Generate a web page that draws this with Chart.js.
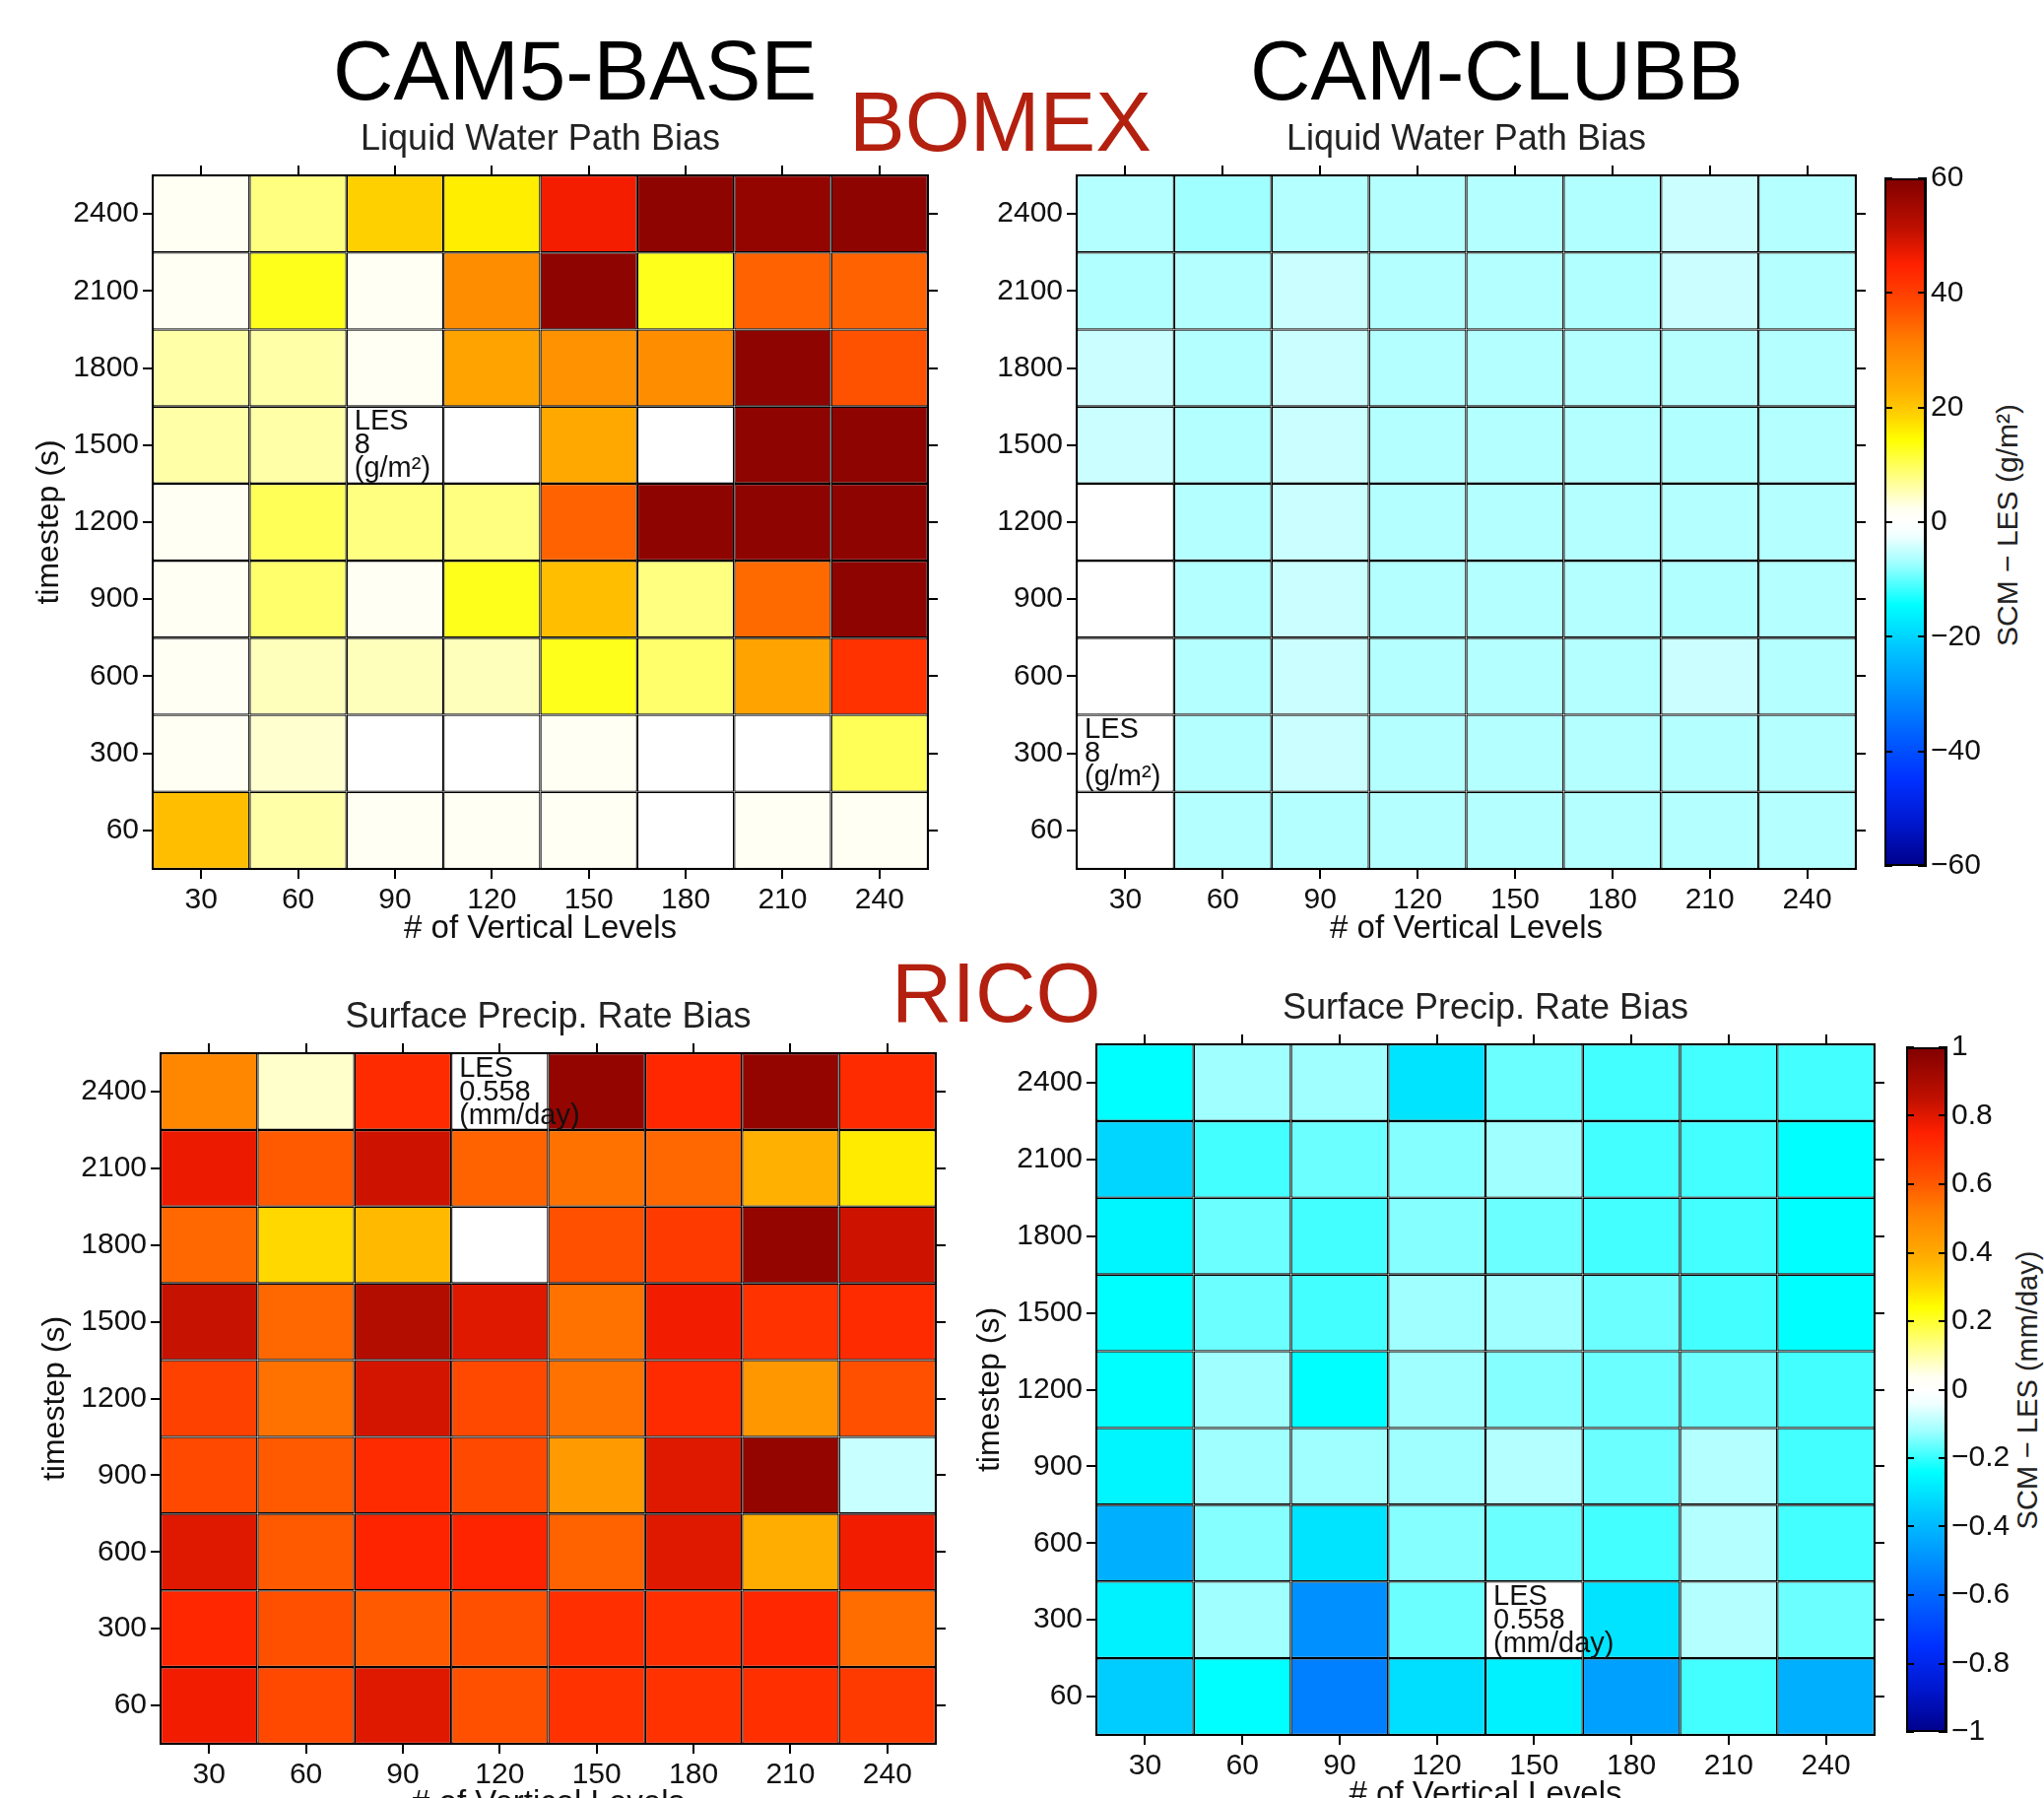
<!DOCTYPE html>
<html lang="en">
<head>
<meta charset="UTF-8" />
<title>BOMEX / RICO bias</title>
<script src="https://cdn.jsdelivr.net/npm/chart.js"></script>
<style>
  html, body { margin: 0; padding: 0; background: #fff; overflow: hidden; }
  body { width: 2075px; height: 1825px; position: relative; font-family: "Liberation Sans", Arial, sans-serif; }
  canvas { position: absolute; }
  .big { position: absolute; font-size: 85px; line-height: 85px; white-space: nowrap; color: #000; }
  .case { color: #b3200f; }
  .cblabel { position: absolute; color: #222; white-space: nowrap; transform: translate(-50%, -50%) rotate(-90deg); }
</style>
</head>
<body>
<div class="big" style="left:338px;top:29px">CAM5-BASE</div>
<div class="big" style="left:1269px;top:29px">CAM-CLUBB</div>
<div class="big case" style="left:862px;top:81px">BOMEX</div>
<div class="big case" style="left:905px;top:965px">RICO</div>
<div class="cblabel" style="left:2038px;top:533px;font-size:30px">SCM − LES (g/m²)</div>
<div class="cblabel" style="left:2058px;top:1411px;font-size:29px">SCM − LES (mm/day)</div>

<canvas id="lwpBase"></canvas>
<canvas id="lwpClubb"></canvas>
<canvas id="precipBase"></canvas>
<canvas id="precipClubb"></canvas>
<canvas id="lwpBar"></canvas>
<canvas id="precipBar"></canvas>

<script>
  // axes
  const levels = ["30", "60", "90", "120", "150", "180", "210", "240"];
  const timesteps = ["60", "300", "600", "900", "1200", "1500", "1800", "2100", "2400"];

  // rows: timestep 60 (bottom) ... 2400 (top); null = white cell
  const lwpBase = [
    [21, 6, 2, 2, 2, null, 2, 2],
    [2, 4, null, null, 2, null, null, 10],
    [2, 5, 5, 5, 13, 9, 25, 42],
    [2, 9, 2, 13, 21, 8, 34, 58],
    [2, 10, 8, 8, 35, 58, 58, 58],
    [6, 6, null, null, 24, null, 58, 58],
    [6, 6, 2, 25, 28, 29, 58, 37],
    [2, 13, 2, 29, 58, 13, 35, 35],
    [2, 8, 19, 16, 46, 58, 57, 58],
  ];
  const lwpClubb = [
    [null, -6, -6, -6, -6, -6, -6, -6],
    [null, -6, -4.6, -6, -6, -6, -6, -6],
    [null, -6, -4.6, -6, -6, -6, -4.6, -6],
    [null, -6, -4.6, -6, -6, -6, -6.2, -6],
    [null, -6, -4.6, -6, -6, -6, -6, -6],
    [-4.6, -6, -4.6, -6, -6, -6, -6.2, -6],
    [-4.6, -6, -4.6, -6, -6, -6, -5.8, -6],
    [-6.2, -6, -4.6, -6, -6, -6.2, -4.6, -6],
    [-6, -7.2, -6, -6, -6, -6.2, -4.6, -6],
  ];
  const precipBase = [
    [0.77, 0.64, 0.8, 0.62, 0.7, 0.7, 0.71, 0.68],
    [0.73, 0.62, 0.6, 0.62, 0.71, 0.71, 0.73, 0.56],
    [0.8, 0.6, 0.74, 0.74, 0.58, 0.8, 0.39, 0.77],
    [0.64, 0.6, 0.72, 0.64, 0.44, 0.8, 0.95, -0.08],
    [0.66, 0.55, 0.82, 0.64, 0.55, 0.72, 0.45, 0.62],
    [0.84, 0.57, 0.88, 0.8, 0.55, 0.77, 0.7, 0.72],
    [0.57, 0.3, 0.36, null, 0.62, 0.68, 0.95, 0.83],
    [0.78, 0.6, 0.83, 0.58, 0.55, 0.57, 0.38, 0.27],
    [0.5, 0.07, 0.72, null, 0.95, 0.73, 0.95, 0.72],
  ];
  const precipClubb = [
    [-0.35, -0.24, -0.54, -0.31, -0.27, -0.46, -0.19, -0.42],
    [-0.27, -0.12, -0.5, -0.16, null, -0.3, -0.1, -0.16],
    [-0.42, -0.14, -0.3, -0.14, -0.16, -0.19, -0.1, -0.19],
    [-0.26, -0.12, -0.12, -0.12, -0.1, -0.16, -0.1, -0.19],
    [-0.24, -0.12, -0.24, -0.12, -0.14, -0.16, -0.16, -0.19],
    [-0.24, -0.16, -0.19, -0.12, -0.12, -0.16, -0.19, -0.24],
    [-0.26, -0.16, -0.19, -0.14, -0.16, -0.19, -0.19, -0.24],
    [-0.33, -0.19, -0.16, -0.14, -0.12, -0.19, -0.19, -0.24],
    [-0.24, -0.12, -0.12, -0.3, -0.16, -0.19, -0.19, -0.19],
  ];

  // colour bar ticks
  const lwpBarTicks = [-60, -40, -20, 0, 20, 40, 60];
  const precipBarTicks = [-1, -0.8, -0.6, -0.4, -0.2, 0, 0.2, 0.4, 0.6, 0.8, 1];

  // blue - white - red map, position in [-1, 1]
  const cmap = [
    [-1.0, "#00008a"], [-0.87, "#0018d0"], [-0.75, "#0030ff"], [-0.62, "#0060ff"],
    [-0.5, "#0090ff"], [-0.36, "#00c8ff"], [-0.24, "#00ffff"], [-0.12, "#a0ffff"],
    [-0.04, "#f0ffff"], [0.0, "#ffffff"], [0.04, "#fffff0"], [0.12, "#ffff90"],
    [0.24, "#ffff00"], [0.3, "#ffd800"], [0.38, "#ffb000"], [0.52, "#ff8000"],
    [0.62, "#ff5000"], [0.75, "#ff2000"], [0.85, "#c01000"], [1.0, "#800000"],
  ];

  Chart.defaults.font.family = '"Liberation Sans", Arial, sans-serif';
  Chart.defaults.color = "#111";

  function hexRgb(h) {
    return [1, 3, 5].map((i) => parseInt(h.slice(i, i + 2), 16));
  }

  function colorFor(v, vmax) {
    if (v === null) return "#ffffff";
    const t = Math.max(-1, Math.min(1, v / vmax));
    for (let i = 1; i < cmap.length; i++) {
      if (t <= cmap[i][0]) {
        const f = (t - cmap[i - 1][0]) / (cmap[i][0] - cmap[i - 1][0]);
        const a = hexRgb(cmap[i - 1][1]), b = hexRgb(cmap[i][1]);
        const c = a.map((x, k) => Math.round(x + (b[k] - x) * f));
        return "rgb(" + c.join(",") + ")";
      }
    }
    return cmap[cmap.length - 1][1];
  }

  // "LES <value> (unit)" note written into one cell
  const lesLabel = {
    id: "lesLabel",
    afterDatasetsDraw(chart, args, o) {
      if (!o.lines) return;
      const { x, y } = chart.scales;
      const half = (x.getPixelForValue(1) - x.getPixelForValue(0)) / 2;
      const px = x.getPixelForValue(o.col) - half + 8;
      const py = y.getPixelForValue(o.row + 1) + 1;
      const ctx = chart.ctx;
      ctx.save();
      ctx.font = '29px "Liberation Sans", Arial, sans-serif';
      ctx.fillStyle = "#111";
      ctx.textBaseline = "top";
      o.lines.forEach((s, i) => ctx.fillText(s, px, py + i * 24));
      ctx.restore();
    },
  };

  function heatmap(id, box, values, vmax, subtitle, les) {
    const canvas = document.getElementById(id);
    const titleBox = 48;
    const left = box.L - box.yW, right = box.R + box.yW;
    const top = box.T - 10 - titleBox, bottom = box.B + 81;
    canvas.width = right - left;
    canvas.height = bottom - top;
    canvas.style.left = left + "px";
    canvas.style.top = top + "px";

    const datasets = timesteps.map((t, r) => ({
      data: levels.map(() => [r, r + 1]),
      backgroundColor: values[r].map((v) => colorFor(v, vmax)),
      borderColor: "#000",
      borderWidth: 1.3,
      borderSkipped: false,
      inflateAmount: 0,
      grouped: false,
      barPercentage: 1,
      categoryPercentage: 1,
    }));

    const tickMarks = { drawOnChartArea: false, tickLength: 10, color: "#000", lineWidth: 2 };
    const frame = { color: "#000", width: 2, z: 1 };
    const rowTicks = (s) => {
      s.ticks = timesteps.map((_, i) => ({ value: i + 0.5 }));
    };

    return new Chart(canvas, {
      type: "bar",
      data: { labels: levels, datasets: datasets },
      plugins: [lesLabel],
      options: {
        responsive: false,
        animation: false,
        layout: { padding: 0 },
        plugins: {
          legend: { display: false },
          tooltip: { enabled: false },
          title: {
            display: true,
            text: subtitle,
            color: "#222",
            font: { size: 36, weight: "normal", lineHeight: 1.25 },
            padding: { top: 0, bottom: 3 },
          },
          lesLabel: les,
        },
        scales: {
          x: {
            offset: true,
            afterFit: (s) => { s.height = 81; },
            ticks: { font: { size: 30 }, padding: 4, autoSkip: false, maxRotation: 0 },
            grid: Object.assign({ offset: false }, tickMarks),
            border: frame,
            title: { display: true, text: "# of Vertical Levels", font: { size: 33 }, padding: 0 },
          },
          x2: {
            type: "category",
            position: "top",
            offset: true,
            afterFit: (s) => { s.height = 10; },
            ticks: { display: false },
            grid: Object.assign({ offset: false }, tickMarks),
            border: frame,
          },
          y: {
            type: "linear",
            min: 0,
            max: timesteps.length,
            afterBuildTicks: rowTicks,
            afterFit: (s) => { s.width = box.yW; },
            ticks: { callback: (v, i) => timesteps[i], font: { size: 30 }, padding: 4 },
            grid: tickMarks,
            border: frame,
            title: { display: box.yTitle, text: "timestep (s)", font: { size: 32 }, padding: 0 },
          },
          y2: {
            type: "linear",
            position: "right",
            min: 0,
            max: timesteps.length,
            afterBuildTicks: rowTicks,
            afterFit: (s) => { s.width = box.yW; },
            ticks: { display: false },
            grid: tickMarks,
            border: frame,
          },
        },
      },
    });
  }

  function colorbar(id, box, ticks, fmt) {
    const canvas = document.getElementById(id);
    const w = box.R - box.L;
    canvas.width = 140;
    canvas.height = box.B - box.T + 40;
    canvas.style.left = box.L + "px";
    canvas.style.top = box.T - 20 + "px";
    const lo = ticks[0], hi = ticks[ticks.length - 1];

    return new Chart(canvas, {
      type: "bar",
      data: {
        labels: [""],
        datasets: [{
          data: [[lo, hi]],
          backgroundColor: (c) => {
            const a = c.chart.chartArea;
            if (!a) return "#fff";
            const g = c.chart.ctx.createLinearGradient(0, a.bottom, 0, a.top);
            cmap.forEach(([t, col]) => g.addColorStop((t + 1) / 2, col));
            return g;
          },
          borderColor: "#000",
          borderWidth: 2,
          borderSkipped: false,
          inflateAmount: 0,
          barPercentage: 1,
          categoryPercentage: 1,
        }],
      },
      options: {
        responsive: false,
        animation: false,
        layout: { padding: { top: 20, bottom: 20, left: 0, right: 0 } },
        plugins: { legend: { display: false }, tooltip: { enabled: false } },
        scales: {
          x: { display: false },
          y: {
            position: "right",
            min: lo,
            max: hi,
            afterBuildTicks: (s) => { s.ticks = ticks.map((v) => ({ value: v })); },
            afterFit: (s) => { s.width = 140 - w; },
            ticks: { font: { size: 30 }, padding: 5, callback: fmt },
            grid: { z: 1, color: "#000", lineWidth: 2, drawTicks: false },
            border: { color: "#000", width: 2, z: 1, dash: [8, w - 16] },
          },
        },
      },
    });
  }

  const minus = (s) => (s.startsWith("-") ? "\u2212" + s.slice(1) : s);

  const boxes = {
    lwpBase: { L: 155, R: 942, T: 178, B: 882, yW: 124, yTitle: true },
    lwpClubb: { L: 1093, R: 1884, T: 178, B: 882, yW: 100, yTitle: false },
    precipBase: { L: 163, R: 950, T: 1069, B: 1770, yW: 126, yTitle: true },
    precipClubb: { L: 1113, R: 1903, T: 1060, B: 1761, yW: 127, yTitle: true },
    lwpBar: { L: 1913, R: 1955, T: 178, B: 882 },
    precipBar: { L: 1935, R: 1976, T: 1060, B: 1761 },
  };

  heatmap("lwpBase", boxes.lwpBase, lwpBase, 60, "Liquid Water Path Bias",
    { col: 2, row: 5, lines: ["LES", "8", "(g/m²)"] });
  heatmap("lwpClubb", boxes.lwpClubb, lwpClubb, 60, "Liquid Water Path Bias",
    { col: 0, row: 1, lines: ["LES", "8", "(g/m²)"] });
  heatmap("precipBase", boxes.precipBase, precipBase, 1, "Surface Precip. Rate Bias",
    { col: 3, row: 8, lines: ["LES", "0.558", "(mm/day)"] });
  heatmap("precipClubb", boxes.precipClubb, precipClubb, 1, "Surface Precip. Rate Bias",
    { col: 4, row: 1, lines: ["LES", "0.558", "(mm/day)"] });

  colorbar("lwpBar", boxes.lwpBar, lwpBarTicks, (v) => minus(String(v)));
  colorbar("precipBar", boxes.precipBar, precipBarTicks,
    (v) => minus(String(Math.round(v * 10) / 10)));
</script>
</body>
</html>
